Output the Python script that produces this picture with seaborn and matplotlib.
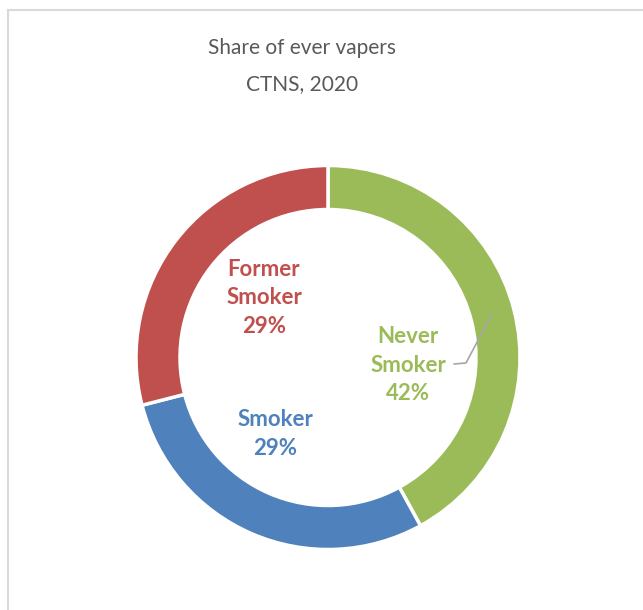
import matplotlib
matplotlib.use("Agg")
import matplotlib.pyplot as plt
import seaborn as sns
from matplotlib.patches import Rectangle

# Data
categories = ["Never\nSmoker", "Smoker", "Former\nSmoker"]
shares = [42, 29, 29]
colors = ["#9BBB59", "#4F81BD", "#C0504D"]

sns.set_theme(style="white")
plt.rcParams["font.family"] = ["Lato", "DejaVu Sans"]

W, H = 643, 610
fig = plt.figure(figsize=(W / 100, H / 100), dpi=100)
ax = fig.add_axes([0, 0, 1, 1])

# chart frame (only left and top visible)
ax.add_patch(Rectangle((8, -20), 700, H - 10 + 20, fill=False,
                       edgecolor="#D9D9D9", lw=1.5))

cx, cy, r = 328, H - 357.5, 192
wedges, _ = ax.pie(shares, colors=colors, startangle=90, counterclock=False,
                   center=(cx, cy), radius=r, frame=True,
                   wedgeprops=dict(width=44, edgecolor="white", linewidth=2.5))
ax.set_xlim(0, W)
ax.set_ylim(0, H)
ax.set_aspect("equal")
ax.axis("off")

ax.text(302, H - 66, "Share of ever vapers\nCTNS, 2020", ha="center", va="center",
        fontsize=15, color="#595959", linespacing=2.05)

label_pos = [(408, 365), (275, 434), (264, 298)]
for cat, val, col, (x, y) in zip(categories, shares, colors, label_pos):
    ax.text(x, H - y, f"{cat}\n{val}%", ha="center", va="center", fontsize=16,
            fontweight="bold", color=col, linespacing=1.45)

# leader line for Never Smoker
ax.plot([454, 466, 492], [H - 364, H - 363, H - 314], color="#A6A6A6", lw=1.2)

fig.savefig("out.png", dpi=100)
